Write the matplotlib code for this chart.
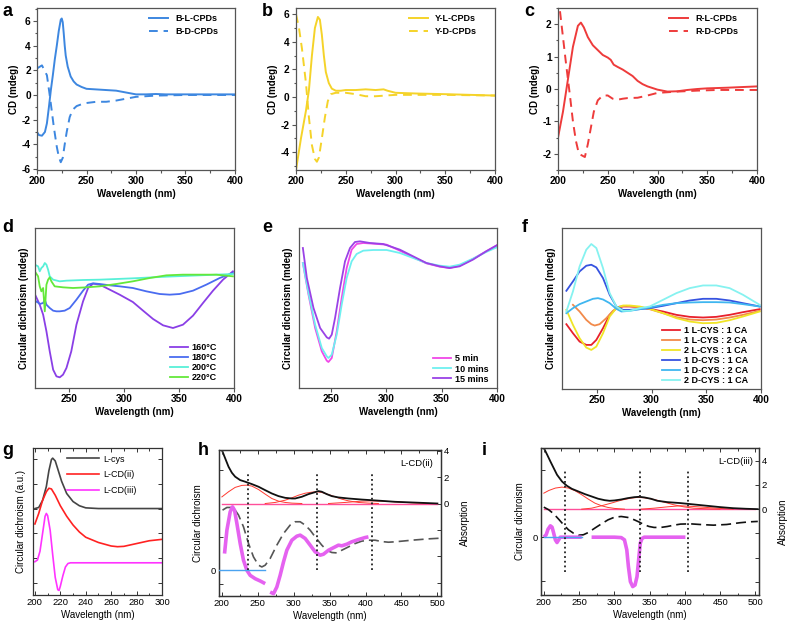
import matplotlib
matplotlib.use("Agg")
import matplotlib.pyplot as plt
from matplotlib.ticker import MultipleLocator, NullFormatter, FixedLocator

plt.rcParams['font.family'] = ['Liberation Sans', 'DejaVu Sans']
plt.rcParams['axes.unicode_minus'] = False

# ---------------- data ----------------
# a
a_L_x = [200,202,205,208,210,212,214,216,218,220,222,224,225,226,227,228,229,231,234,237,240,245,250,260,270,280,290,300,310,320,330,350,400]
a_L_y = [-3.0,-3.25,-3.3,-3.0,-2.3,-1.0,0.4,1.6,2.9,4.0,5.2,6.1,6.2,5.9,5.0,4.0,3.2,2.3,1.5,1.1,0.85,0.65,0.5,0.45,0.4,0.35,0.2,0.05,0.05,0.08,0.05,0.05,0.05]
a_D_x = [200,205,210,213,217,220,222,224,226,228,230,233,236,240,245,250,260,270,280,290,300,320,350,400]
a_D_y = [2.15,2.4,1.6,-0.1,-2.6,-4.2,-5.0,-5.45,-5.1,-4.0,-3.0,-1.8,-1.2,-0.9,-0.75,-0.65,-0.55,-0.55,-0.45,-0.3,-0.15,-0.05,0.0,0.0]
# b
b_L_x = [200,205,210,213,216,219,222,224,226,228,230,233,236,240,245,250,260,270,280,288,292,300,320,350,400]
b_L_y = [-5.3,-3.0,-1.0,0.5,3.0,5.0,5.8,5.6,4.5,3.0,1.8,1.0,0.6,0.45,0.45,0.5,0.5,0.55,0.5,0.55,0.45,0.3,0.25,0.2,0.1]
b_D_x = [200,203,206,210,213,216,219,221,223,226,229,232,235,240,250,260,270,280,290,300,350,400]
b_D_y = [6.0,5.0,3.5,1.0,-1.5,-3.5,-4.5,-4.7,-4.4,-3.0,-1.5,-0.3,0.2,0.3,0.3,0.2,0.05,0.05,0.1,0.15,0.15,0.1]
# c
c_L_x = [200,205,210,215,220,223,226,230,235,240,245,250,253,256,260,265,270,275,280,285,290,300,305,310,320,330,340,350,370,400]
c_L_y = [-1.5,-0.7,0.3,1.3,1.95,2.05,1.9,1.6,1.35,1.2,1.05,0.97,0.9,0.75,0.68,0.6,0.5,0.4,0.25,0.15,0.08,-0.02,-0.05,-0.08,-0.07,-0.03,0.0,0.02,0.04,0.08]
c_D_x = [202,205,208,212,215,218,221,224,227,230,233,236,240,245,250,255,260,265,270,280,290,300,310,320,340,360,400]
c_D_y = [2.4,1.6,0.8,-0.2,-1.0,-1.6,-2.0,-2.05,-2.1,-1.7,-1.2,-0.7,-0.35,-0.2,-0.2,-0.3,-0.33,-0.3,-0.28,-0.27,-0.2,-0.12,-0.1,-0.08,-0.05,-0.03,-0.03]
# d
d_160_x = [218.8,223.3,226.4,229.4,232.4,235.5,238.5,241.5,244.5,247.6,252,256.7,262.7,267.3,271.8,277.9,287,296,308,317.3,326.4,335.5,344.5,353.6,362.7,371.8,380.9,390,399]
d_160_y = [28.2,25,22,17,11,5.5,3.5,3.2,4,6,11,19,26,30,31.3,31,29.5,28,25.8,23.2,20.7,18.8,18,19,21.7,25.5,29.2,32.5,35]
d_180_x = [218.8,220.3,223.3,226.4,227.9,229.4,232.4,235.5,238.5,241.5,246,250.6,256.7,262.7,267.3,271.8,277.9,287,296,308,320.3,332.4,341.5,350.6,362.7,374.8,387,399]
d_180_y = [25.5,26,25.2,25.5,26.5,25,24,23.2,23,23,23.2,24,26.5,29.2,31,31.4,31.2,30.8,30.5,30,29,28.2,28,28.2,29.2,31,33,34.5]
d_200_x = [218.8,221.8,223.3,224.8,226.4,227.9,229.4,230.9,232.4,235.5,241.5,247.6,262.7,277.9,308,338.5,368.8,399]
d_200_y = [37,36.5,35,36,36.5,37.5,37,35.5,33.5,32.5,32,32.2,32.4,32.5,32.9,33.4,33.8,34.2]
d_220_x = [218.8,221.8,223.3,224.8,226.4,227.9,229.4,230.9,232.4,233.9,236.9,244.5,253.6,265.8,277.9,293,308,323.3,338.5,353.6,368.8,384,399]
d_220_y = [35,33.5,30.5,29,30,23,31,32.5,33.2,32,30.5,30.2,30,30.2,30.5,31.2,32,33,33.8,34,34,34,33.5]
# e
e_x15 = [224.5,228.1,234.1,240.1,246.1,248.2,250.6,253.6,258.1,262.6,267.1,271.6,276.1,285.1,297.1,312.2,324.2,336.2,348.2,357.2,366.2,378.2,390.2,399.8]
e_y15 = [42,33,24,18,15.2,14.8,16,21,30,38,42,43.8,44,43.5,43.2,41.5,39.5,37.5,36.5,36,36.5,38.5,41,42.8]
e_x5 = [224.5,229.6,235.6,241.6,246.1,247.6,250.6,255.1,259.6,264.1,268.6,273.1,279.1,288.1,300.2,312.2,324.2,336.2,348.2,357.2,366.2,378.2,390.2,399.8]
e_y5 = [37.5,28,18,11,8.2,7.8,9,17,27,36,41.5,43.2,43.5,43.3,43,41.2,39.2,37.4,36.4,36,36.7,38.7,41,42.8]
e_x10 = [224.5,229.6,235.6,241.6,246.1,247.6,250.6,255.1,259.6,264.1,268.6,273.1,279.1,288.1,300.2,312.2,324.2,336.2,348.2,357.2,366.2,378.2,390.2,399.8]
e_y10 = [37.5,28.5,19,12,9.5,9,10,16,25,33,38,40.2,41.2,41.4,41.4,40.5,39,37.5,36.7,36.4,37,38.8,40.8,42.2]
# f
f_x = [222,228,234.1,240.2,244.8,249.4,255.5,261.6,267.7,273.8,279.9,289,298.2,310.4,322.6,334.8,347,359.1,371.3,383.5,398.8]
f_L11 = [19.4,16.7,14.2,13.2,13.2,14.7,18.2,22.2,24.2,24.7,24.7,24.5,24,23.2,22.2,21.6,21.4,21.6,22.2,23,23.9]
f_L12_x = [228,234.1,240.2,244.8,247.9,252.4,258.5,264.6,270.7,276.8,282.9,298.2,310.4,322.6,334.8,347,359.1,371.3,383.5,398.8]
f_L12 = [25.2,23.2,20.7,19.4,19,19.4,21.2,23.4,24.7,24.9,24.7,23.9,22.7,21.5,20.8,20.6,20.8,21.4,22.2,23.4]
f_L21 = [23.7,19.2,15.2,12.4,11.7,12.7,16.7,21.7,24.2,25,25,24.7,24,22.7,21.2,20.2,19.7,19.8,20.6,21.7,23.2]
f_D11 = [29.4,32.2,35.2,36.9,37.2,36.4,33.2,28.2,24.7,23.7,23.7,23.9,24.2,24.9,25.7,26.5,27,27,26.5,25.7,24.7]
f_D12_x = [222,228,234.1,240.2,246.3,250.9,255.5,261.6,267.7,272.3,279.9,289,298.2,310.4,322.6,334.8,347,359.1,371.3,383.5,398.8]
f_D12 = [22.7,24.2,25.4,26.2,27,27.2,26.8,25.7,24,23.2,23.4,23.9,24.4,25.2,25.7,25.9,26,26,25.9,25.4,24.7]
f_D21 = [23.2,29.2,36.7,41.7,43.4,42.2,36.2,28.7,24.7,23.4,23.4,24.2,24.7,26.7,28.7,30.2,31,31,30.2,28.2,25.2]
f_labels = ['1 L-CYS : 1 CA', '1 L-CYS : 2 CA', '2 L-CYS : 1 CA', '1 D-CYS : 1 CA', '1 D-CYS : 2 CA', '2 D-CYS : 1 CA']
# g
g_cys_x = [200,203,206,209,211,213,214,216,218,221,225,230,235,240,250,300]
g_cys_y = [24.7,25,27,31,35.5,38.7,39.1,38.3,36,32.5,29,26.7,25.5,24.9,24.7,24.7]
g_ii_x = [200,203,206,209,211,213,216,220,225,230,235,240,250,260,265,270,280,290,300]
g_ii_y = [20.3,23.3,27,29.5,30.5,30.3,28.5,25.5,22.5,20,18,16.5,15,14,13.8,13.9,14.7,15.5,15.9]
g_iii_x = [200,202,204,206,208,209,210,212,214,216,218,219,220,222,224,226,228,300]
g_iii_y = [9.5,10,12.5,17.5,22.5,23.3,22.7,18.5,11.5,5,1.5,1.3,2.5,5.5,8,9,9.2,9.2]
g_labels = ['L-cys', 'L-CD(ii)', 'L-CD(iii)']
# h  (absorption on right axis, CD on left axis)
h_abs_x = [200,204.6,209.3,213.9,218.5,225.5,232.5,241.7,251,260.3,269.5,278.8,288.1,297.4,302,311.3,320.5,329.8,334.4,339.1,346,353,362.3,376.2,394.7,408.6,422.5,441,464.3,487.4,500]
h_abs_y = [4.05,3.42,2.78,2.33,2.03,1.77,1.65,1.47,1.27,1.01,0.76,0.56,0.43,0.38,0.38,0.51,0.71,0.86,0.94,0.89,0.71,0.56,0.46,0.38,0.30,0.25,0.2,0.13,0.08,0.03,0.0]
h_g1_x = [200,209.3,218.5,227.8,234.8,241.7,251,260.3,269.5,278.8,288.1,297.4,311.3]
h_g1_y = [0.5,0.89,1.22,1.37,1.39,1.32,1.06,0.71,0.38,0.18,0.08,0.03,0.0]
h_g2_x = [260.3,274.2,288.1,297.4,306.7,315.9,325.2,332.2,339.1,348.4,357.6,366.9,376.2,390.1,404,417.9]
h_g2_y = [0.0,0.08,0.25,0.43,0.63,0.78,0.86,0.89,0.84,0.68,0.51,0.33,0.2,0.08,0.03,0.0]
h_g3_x = [348.4,371.5,394.7,408.6,422.5,441,464.3,487.4]
h_g3_y = [0.0,0.08,0.18,0.2,0.18,0.13,0.05,0.0]
h_cd_x = [200.9,207,213.9,218.5,223.2,230.1,237.1,244,251,255.6,260.3,267.2,276.5,285.8,295,302,309,315.9,322.9,329.8,339.1,346,353,360,366.9,376.2,385.4,394.7,404,413.3,422.5,431.8,441.1,464.3,487.4,503.7]
h_cd_y = [4.5,4.7,4.7,4.5,4.13,3.25,2.0,1.0,0.38,0.25,0.38,0.88,1.88,2.75,3.38,3.63,3.63,3.38,3.0,2.5,1.88,1.5,1.33,1.3,1.5,1.75,2.0,2.18,2.25,2.25,2.15,2.1,2.13,2.25,2.35,2.4]
h_m1_x = [203.7,207,211.6,214.8,217.6,220.9,225.5,230.1,234.8,239.4,246.4,253.3,260.3]
h_m1_y = [1.25,3.0,4.38,4.75,4.5,3.5,2.0,0.75,0.0,-0.38,-0.63,-0.8,-1.0]
h_m2_x = [267.2,271.9,276.5,281.1,285.8,290.4,297.4,304.3,309,315.9,322.9,329.8,336.8,341.4,348.4,357.6,362.3,366.9,373.9,380.8,390.1,399.4,404]
h_m2_y = [-1.63,-1.75,-1.25,-0.38,0.63,1.5,2.25,2.55,2.63,2.38,1.88,1.38,1.13,1.2,1.5,1.75,1.88,1.83,1.95,2.13,2.3,2.45,2.5]
h_peaks = [237, 333, 408.6]
# i
i_abs_x = [200,204.7,209.3,214,218.7,225.7,232.7,239.7,249,258.3,267.7,277,286.3,293.3,300.3,309.7,319,328.3,335.3,342.3,351.7,361,375,393.7,412.3,431,449.6,468.3,487,503.3]
i_abs_y = [5.05,4.5,3.94,3.39,2.84,2.29,1.93,1.68,1.46,1.24,1.05,0.86,0.74,0.69,0.72,0.8,0.91,0.99,1.02,0.97,0.86,0.69,0.58,0.5,0.39,0.28,0.17,0.08,0.03,0.0]
i_g1_x = [200,207,216.3,225.7,235,244.3,253.7,263,272.3,281.7,291,300.3,314.3]
i_g1_y = [1.32,1.54,1.74,1.82,1.74,1.52,1.19,0.83,0.5,0.28,0.14,0.06,0.0]
i_g2_x = [253.7,267.7,281.7,295.7,309.7,323.7,333,342.3,356.3,370.3,384.3,398.3,412.3,431,449.6]
i_g2_y = [0.0,0.08,0.28,0.5,0.74,0.91,0.97,0.94,0.8,0.58,0.36,0.19,0.08,0.03,0.0]
i_g3_x = [337.7,356.3,375,393.7,412.3,431,449.6,468.3]
i_g3_y = [0.0,0.08,0.19,0.28,0.22,0.14,0.06,0.0]
i_cd_x = [200,207,214,221,228,235,242,249,256,263,272.3,281.7,291,300.3,309.7,319,328.3,335.3,342.3,349.3,356.3,365.7,375,384.3,393.7,407.7,421.7,440.3,459,477.6,491.6,503.3]
i_cd_y = [2.25,2.05,1.75,1.35,0.93,0.55,0.3,0.15,0.18,0.35,0.68,1.0,1.3,1.5,1.55,1.48,1.3,1.13,0.93,0.8,0.73,0.73,0.8,0.9,0.98,1.0,0.95,0.9,0.95,1.08,1.15,1.18]
i_m1_x = [200,203.3,206,209.3,211.7,214,216.3,218.7,221,223.3,253.7]
i_m1_y = [0.0,0.18,0.6,0.85,0.75,0.3,-0.2,-0.4,-0.2,0.0,0.0]
i_m2_x = [267.7,300.3,309.7,314.3,317.6,319.9,322.7,326,329.3,332.1,334.4,336.7,339.1,342.3,400.7]
i_m2_y = [0.0,0.0,-0.03,-0.2,-0.95,-2.2,-3.33,-3.7,-3.58,-2.95,-1.7,-0.45,-0.1,0.0,0.0]
i_peaks = [230, 335.8, 404.4]

# ---------------- figure ----------------
W, H = 788, 630
fig = plt.figure(figsize=(W/100, H/100), dpi=100)

def rect(l, t, r, b):
    return [l/W, 1-b/H, (r-l)/W, (b-t)/H]

FRAME = '#555555'
BOLD = dict(fontsize=7, fontweight='bold')

def style_top(ax):
    for s in ax.spines.values():
        s.set_color(FRAME); s.set_linewidth(0.9)
    ax.tick_params(which='both', direction='out', color=FRAME, width=0.8, labelsize=7.3, pad=1.5)
    ax.tick_params(which='major', length=3)
    ax.tick_params(which='minor', length=1.8)
    for lab in ax.get_xticklabels() + ax.get_yticklabels():
        lab.set_fontweight('bold')
    ax.set_xlabel('Wavelength (nm)', labelpad=2, **BOLD)

# ---- a, b, c
panels_abc = [
    ('a', rect(37, 8, 235, 170), a_L_x, a_L_y, a_D_x, a_D_y, '#3d87e0', ['B-L-CPDs', 'B-D-CPDs'], (-6.08, 7.05), 2, 0.932),
    ('b', rect(296, 8, 495, 170), b_L_x, b_L_y, b_D_x, b_D_y, '#f5d329', ['Y-L-CPDs', 'Y-D-CPDs'], (-5.3, 6.45), 2, 0.928),
    ('c', rect(558, 8, 757, 170), c_L_x, c_L_y, c_D_x, c_D_y, '#ee3b3b', ['R-L-CPDs', 'R-D-CPDs'], (-2.5, 2.5), 1, 0.923),
]
for letter, r, xl, yl, xd, yd, col, labs, ylim, step, lx in panels_abc:
    ax = fig.add_axes(r)
    ax.plot(xl, yl, color=col, lw=1.4, label=labs[0])
    ax.plot(xd, yd, color=col, lw=1.4, ls=(0, (4.5, 3)), label=labs[1])
    ax.set_xlim(200, 400); ax.set_ylim(*ylim)
    ax.xaxis.set_major_locator(MultipleLocator(50)); ax.xaxis.set_minor_locator(MultipleLocator(25))
    ax.yaxis.set_major_locator(MultipleLocator(step)); ax.yaxis.set_minor_locator(MultipleLocator(step/2))
    style_top(ax)
    ax.set_ylabel('CD (mdeg)', labelpad=2, **BOLD)
    ax.legend(loc='upper right', bbox_to_anchor=(lx, 0.985), frameon=False, handlelength=2.1,
              handletextpad=0.8, prop=dict(size=6.5, weight='bold'), borderaxespad=0, labelspacing=0.45)
    fig.text(r[0]-35/W if letter == 'a' else r[0]-34/W, 0.995, letter, fontsize=13, fontweight='bold', va='top', ha='left')

LEG_B = dict(frameon=False, handlelength=2.0, handletextpad=0.45, prop=dict(size=6.5, weight='bold'),
             borderaxespad=0, labelspacing=0.12, loc='lower right')

# ---- d
ax = fig.add_axes(rect(35, 228, 234, 388))
ax.plot(d_160_x, d_160_y, color='#8a3fe6', lw=1.3, label='160°C')
ax.plot(d_180_x, d_180_y, color='#4a6cf0', lw=1.3, label='180°C')
ax.plot(d_200_x, d_200_y, color='#58f0d8', lw=1.3, label='200°C')
ax.plot(d_220_x, d_220_y, color='#64e83a', lw=1.3, label='220°C')
ax.set_xlim(219, 400); ax.set_ylim(0, 48)
ax.xaxis.set_major_locator(MultipleLocator(50)); ax.set_yticks([])
style_top(ax)
ax.set_ylabel('Circular dichroism (mdeg)', labelpad=4, **BOLD)
ax.legend(bbox_to_anchor=(0.933, 0.012), **LEG_B)
fig.text(2/W, 1-219/H, 'd', fontsize=13, fontweight='bold', va='top')

# ---- e
ax = fig.add_axes(rect(299, 228, 497, 388))
ax.plot(e_x5, e_y5, color='#f048e8', lw=1.3, label='5 min')
ax.plot(e_x10, e_y10, color='#6ef0f0', lw=1.3, label='10 mins')
ax.plot(e_x15, e_y15, color='#9a42e6', lw=1.3, label='15 mins')
ax.set_xlim(221, 400); ax.set_ylim(0, 48)
ax.xaxis.set_major_locator(MultipleLocator(50)); ax.set_yticks([])
style_top(ax)
ax.set_ylabel('Circular dichroism (mdeg)', labelpad=4, **BOLD)
ax.legend(bbox_to_anchor=(0.978, 0.005), **LEG_B)
fig.text(262/W, 1-219/H, 'e', fontsize=13, fontweight='bold', va='top')

# ---- f
ax = fig.add_axes(rect(562, 228, 761, 389))
f_cols = ['#e8202c', '#f28a4a', '#f0e526', '#3653e0', '#3fb6f0', '#86f2f0']
ax.plot(f_x, f_L11, color=f_cols[0], lw=1.3, label=f_labels[0])
ax.plot(f_L12_x, f_L12, color=f_cols[1], lw=1.3, label=f_labels[1])
ax.plot(f_x, f_L21, color=f_cols[2], lw=1.3, label=f_labels[2])
ax.plot(f_x, f_D11, color=f_cols[3], lw=1.3, label=f_labels[3])
ax.plot(f_D12_x, f_D12, color=f_cols[4], lw=1.3, label=f_labels[4])
ax.plot(f_x, f_D21, color=f_cols[5], lw=1.3, label=f_labels[5])
ax.set_xlim(218, 400); ax.set_ylim(0, 48.2)
ax.xaxis.set_major_locator(MultipleLocator(50)); ax.set_yticks([])
style_top(ax)
ax.set_ylabel('Circular dichroism (mdeg)', labelpad=4, **BOLD)
ax.legend(bbox_to_anchor=(0.953, 0.0), **LEG_B)
fig.text(522/W, 1-219/H, 'f', fontsize=13, fontweight='bold', va='top')

# ---- bottom row style
def style_bot(ax, right=False):
    for s in ax.spines.values():
        s.set_color('#333333'); s.set_linewidth(0.9)
    ax.tick_params(which='both', direction='in', top=True, right=not right, color='#333333',
                   width=0.7, labelsize=6.8, pad=2)
    ax.tick_params(which='major', length=3)
    ax.tick_params(which='minor', length=1.8)

# ---- g
ax = fig.add_axes(rect(33, 448, 162, 595))
ax.plot(g_cys_x, g_cys_y, color='#454545', lw=1.2, label=g_labels[0])
ax.plot(g_ii_x, g_ii_y, color='#ff2222', lw=1.2, label=g_labels[1])
ax.plot(g_iii_x, g_iii_y, color='#ff33ff', lw=1.2, label=g_labels[2])
ax.set_xlim(198.5, 300); ax.set_ylim(0, 42)
ax.xaxis.set_major_locator(MultipleLocator(20)); ax.xaxis.set_minor_locator(MultipleLocator(10))
ax.yaxis.set_major_locator(FixedLocator([3.3, 10.5, 17.6, 24.7, 31.8, 38.9]))
ax.yaxis.set_major_formatter(NullFormatter())
style_bot(ax)
ax.set_xlabel('Wavelength (nm)', fontsize=7, labelpad=2)
ax.set_ylabel('Circular dichroism (a.u.)', fontsize=7, labelpad=3)
ax.legend(loc='upper right', bbox_to_anchor=(0.834, 0.98), frameon=False, handlelength=3.6,
          handletextpad=0.5, fontsize=6.5, borderaxespad=0, labelspacing=0.75)
fig.text(2/W, 1-442/H, 'g', fontsize=13, fontweight='bold', va='top')

# ---- h / i
def combo(r, lims_l, lims_r, absx, absy, gs, cdx, cdy, m1x, m1y, m2x, m2y, bluex, peaks, peak_top, peak_bot, tag, tagpos, letter, letterpos, cd_dash_col):
    ax = fig.add_axes(r)
    ax2 = ax.twinx()
    ax.set_zorder(ax2.get_zorder() + 1); ax.patch.set_visible(False)
    ax.plot(bluex, [0, 0], color='#4aa3f0', lw=1.0, zorder=4)
    ax.plot(m1x, m1y, color='#e562f0', lw=2.6, solid_capstyle='butt', zorder=3)
    ax.plot(m2x, m2y, color='#e562f0', lw=2.6, solid_capstyle='butt', zorder=3)
    ax.plot(cdx, cdy, color=cd_dash_col, lw=1.2, ls=(0, (6, 3)), zorder=2)
    ax.vlines(peaks, peak_bot, peak_top, colors='#222222', lw=1.3, linestyles=(0, (1, 1.6)), zorder=5)
    ax.set_xlim(196, 505); ax.set_ylim(lims_l[0], lims_l[1])
    ax2.set_ylim(*lims_r)
    ax2.plot([200, 500], [0, 0], color='#ff4f9a', lw=1.0)
    for gx, gy in gs:
        ax2.plot(gx, gy, color='#ff3a30', lw=0.7)
    ax2.plot(absx, absy, color='#111111', lw=1.3)
    ax.xaxis.set_major_locator(MultipleLocator(50)); ax.xaxis.set_minor_locator(MultipleLocator(25))
    style_bot(ax, right=True)
    ax.yaxis.set_major_locator(FixedLocator(lims_l[2]))
    ax.yaxis.set_major_formatter(plt.FuncFormatter(lambda v, p: '0' if abs(v) < 1e-9 else ''))
    ax2.yaxis.set_major_locator(MultipleLocator(2))
    ax2.yaxis.set_major_formatter(plt.FuncFormatter(lambda v, p: f'{int(round(v))}' if v >= -0.01 else ''))
    for s in ax2.spines.values():
        s.set_color('#333333'); s.set_linewidth(0.9)
    ax2.tick_params(direction='in', length=3, width=0.7, color='#333333', labelsize=6.8, pad=2)
    ax.set_xlabel('Wavelength (nm)', fontsize=7, labelpad=2)
    ax.set_ylabel('Circular dichroism', fontsize=7, labelpad=6)
    ax2.set_ylabel('Absorption', fontsize=7, labelpad=8)
    ax.text(tagpos[0], tagpos[1], tag, transform=ax.transAxes, ha='right', va='center', fontsize=6.8)
    fig.text(letterpos[0]/W, 1-letterpos[1]/H, letter, fontsize=13, fontweight='bold', va='top')

combo(rect(219, 450, 441, 596), (-1.925, 9.0, [-1.0, 0, 2.5, 7.5]), (-7.0, 4.05),
      h_abs_x, h_abs_y, [(h_g1_x, h_g1_y), (h_g2_x, h_g2_y), (h_g3_x, h_g3_y)],
      h_cd_x, h_cd_y, h_m1_x, h_m1_y, h_m2_x, h_m2_y, [196, 260], h_peaks, 7.25, 0.0,
      'L-CD(ii)', (0.964, 0.91), 'h', (198, 442), '#555555')
combo(rect(541, 448, 759, 595), (-4.33, 6.68, [-3.3, 0, 5.0]), (-7.09, 5.05),
      i_abs_x, i_abs_y, [(i_g1_x, i_g1_y), (i_g2_x, i_g2_y), (i_g3_x, i_g3_y)],
      i_cd_x, i_cd_y, i_m1_x, i_m1_y, i_m2_x, i_m2_y, [200, 254], i_peaks, 5.0, -2.58,
      'L-CD(iii)', (0.972, 0.905), 'i', (482, 442), '#111111')

fig.savefig('out.png', dpi=100)
